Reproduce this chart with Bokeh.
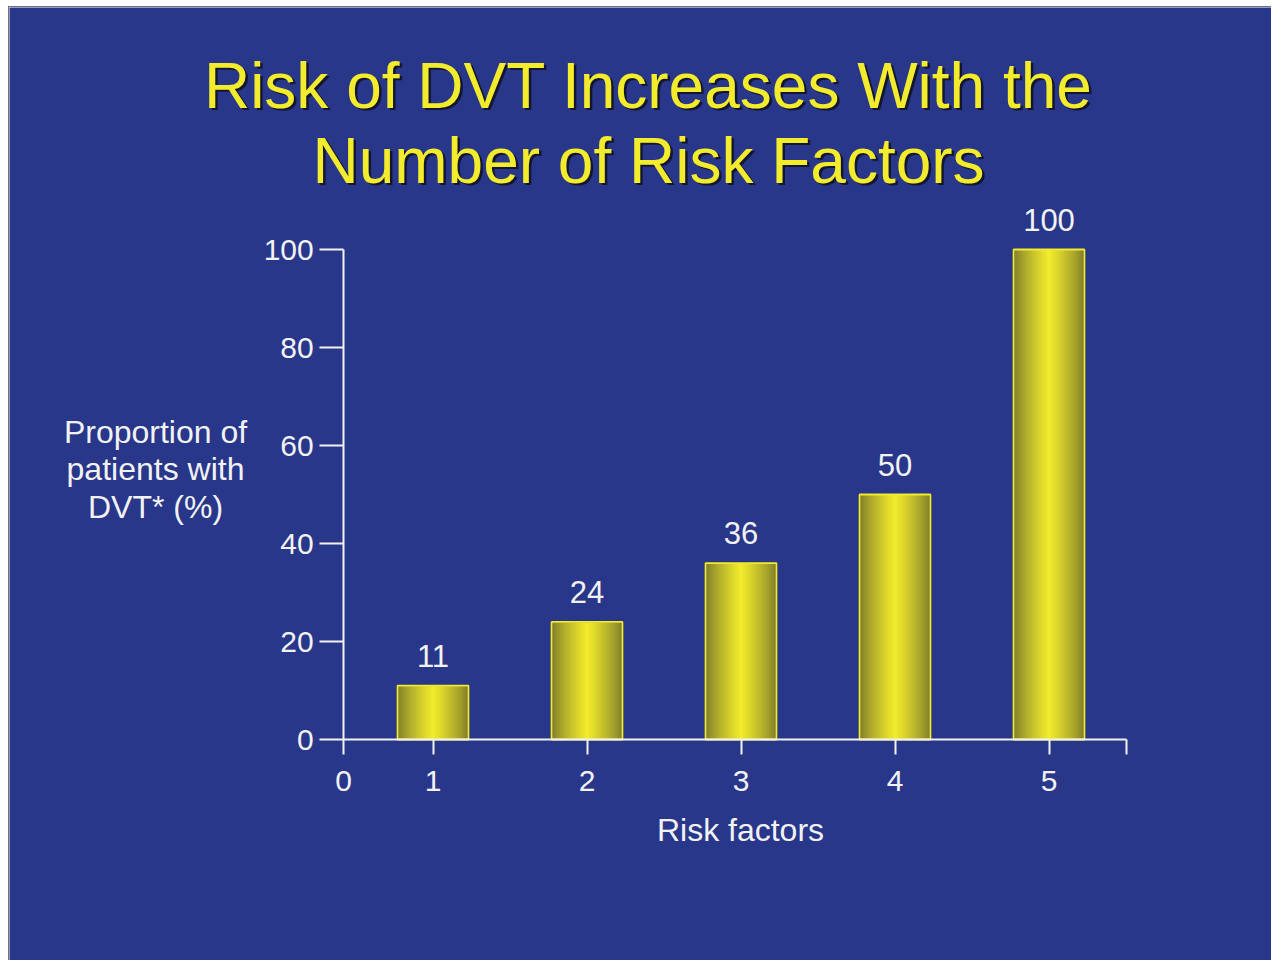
from bokeh.plotting import figure
from bokeh.models import ColumnDataSource, FixedTicker, Label, Spacer
from bokeh.layouts import column, row
from bokeh.core.properties import value
from bokeh.embed import file_html
from bokeh.resources import INLINE

# ---- data ----
risk_factors = [1, 2, 3, 4, 5]
dvt_percent = [11, 24, 36, 50, 100]
x_tick_positions = [0.42, 1, 2, 3, 4, 5, 5.5]
x_tick_labels = ["0", "1", "2", "3", "4", "5", ""]
y_ticks = [0, 20, 40, 60, 80, 100]

title_lines = ["Risk of DVT Increases With the", "Number of Risk Factors"]
y_label_text = "Proportion of\npatients with\nDVT* (%)"
x_label_text = "Risk factors"

# ---- styling ----
BG = "#28378a"
YELLOW = "#f2ec2c"
WHITE = "#f2f2f2"
FONT = "Liberation Sans"
BAR_W = 0.46
N_LEVELS = 40

W, H = 1263, 954          # canvas size; the plot frame fills all of it
PX_X, PX_Y = 154.0, 4.9   # pixels per data unit
X0_PX, Y0_PX = 423.5, 732.0  # canvas position of x=1 and of y=0

x_start = 1 - X0_PX / PX_X
y_end = Y0_PX / PX_Y

p = figure(width=W, height=H, output_backend="svg", toolbar_location=None,
           x_range=(x_start, x_start + W / PX_X),
           y_range=(y_end - H / PX_Y, y_end),
           min_border=0)
p.background_fill_color = BG
p.border_fill_color = BG
p.outline_line_color = None
p.grid.visible = False
p.styles = {"border-left": "1px solid #707070", "border-top": "1px solid #707070"}

# gradient bars: nested bars, widest/darkest first, narrowest/brightest last
def lerp(a, b, t):
    return int(round(a + (b - a) * t))

edge = (126, 124, 44)
mid = (244, 238, 44)
xs, tops, widths, colors = [], [], [], []
for k in range(N_LEVELS):
    f = k / N_LEVELS
    t = f ** 0.8
    c = "#%02x%02x%02x" % (lerp(edge[0], mid[0], t), lerp(edge[1], mid[1], t), lerp(edge[2], mid[2], t))
    for xv, yv in zip(risk_factors, dvt_percent):
        xs.append(xv)
        tops.append(yv)
        widths.append(BAR_W * (1 - f))
        colors.append(c)
layers = ColumnDataSource(dict(x=xs, top=tops, width=widths, color=colors))
p.vbar(x="x", top="top", bottom=0, width="width", source=layers,
       fill_color="color", line_color=None)

bars = ColumnDataSource(dict(x=risk_factors, top=dvt_percent,
                             label=[str(v) for v in dvt_percent]))
p.vbar(x="x", top="top", bottom=0, width=BAR_W * 0.985, source=bars,
       fill_color=None, line_color="#55531e", line_width=1)
p.vbar(x="x", top="top", bottom=0, width=BAR_W, source=bars,
       fill_color=None, line_color=YELLOW, line_width=1.8)

# value labels above the bars
p.text(x="x", y="top", text="label", source=bars, text_align="center",
       text_baseline="middle", y_offset=-30, text_color=WHITE,
       text_font=value(FONT), text_font_size="31px")

# axes drawn at fixed data positions inside the frame
for ax in (p.xaxis[0], p.yaxis[0]):
    ax.axis_line_color = WHITE
    ax.axis_line_width = 2
    ax.major_tick_line_color = WHITE
    ax.major_tick_line_width = 2
    ax.minor_tick_line_color = None
    ax.major_tick_in = 0
    ax.major_label_text_color = WHITE
    ax.major_label_text_font = FONT
    ax.major_label_text_font_size = "30px"

p.xaxis.fixed_location = 0
p.xaxis.bounds = (x_tick_positions[0], x_tick_positions[-1])
p.xaxis.ticker = FixedTicker(ticks=x_tick_positions)
p.xaxis.major_label_overrides = dict(zip(x_tick_positions, x_tick_labels))
p.xaxis.major_tick_out = 15
p.xaxis.major_label_standoff = 16

p.yaxis.fixed_location = x_tick_positions[0]
p.yaxis.bounds = (y_ticks[0], y_ticks[-1])
p.yaxis.ticker = FixedTicker(ticks=y_ticks)
p.yaxis.major_tick_out = 24
p.yaxis.major_label_standoff = 6

def place(text, px, py, size, color=WHITE, **kw):
    # px, py: canvas pixels from the top-left corner
    p.add_layout(Label(x=px, y=H - py, x_units="screen", y_units="screen",
                       text=text, text_align="center", text_baseline="middle",
                       text_color=color, text_font=FONT, text_font_size=size, **kw))

place(y_label_text, 146, 462, "32px", text_line_height=1.04)
place(x_label_text, 731, 822, "32px")

# title with a soft drop shadow
for i, line in enumerate(title_lines):
    ty = 78 + i * 75
    place(line, 639 + 2.5, ty + 2.5, "64px", color="#101020", text_alpha=0.85)
    place(line, 639, ty, "64px", color=YELLOW)

layout = column(Spacer(height=6, width=1272),
                row(Spacer(width=8, height=H), p))

open("out.html", "w").write(file_html(layout, INLINE))
